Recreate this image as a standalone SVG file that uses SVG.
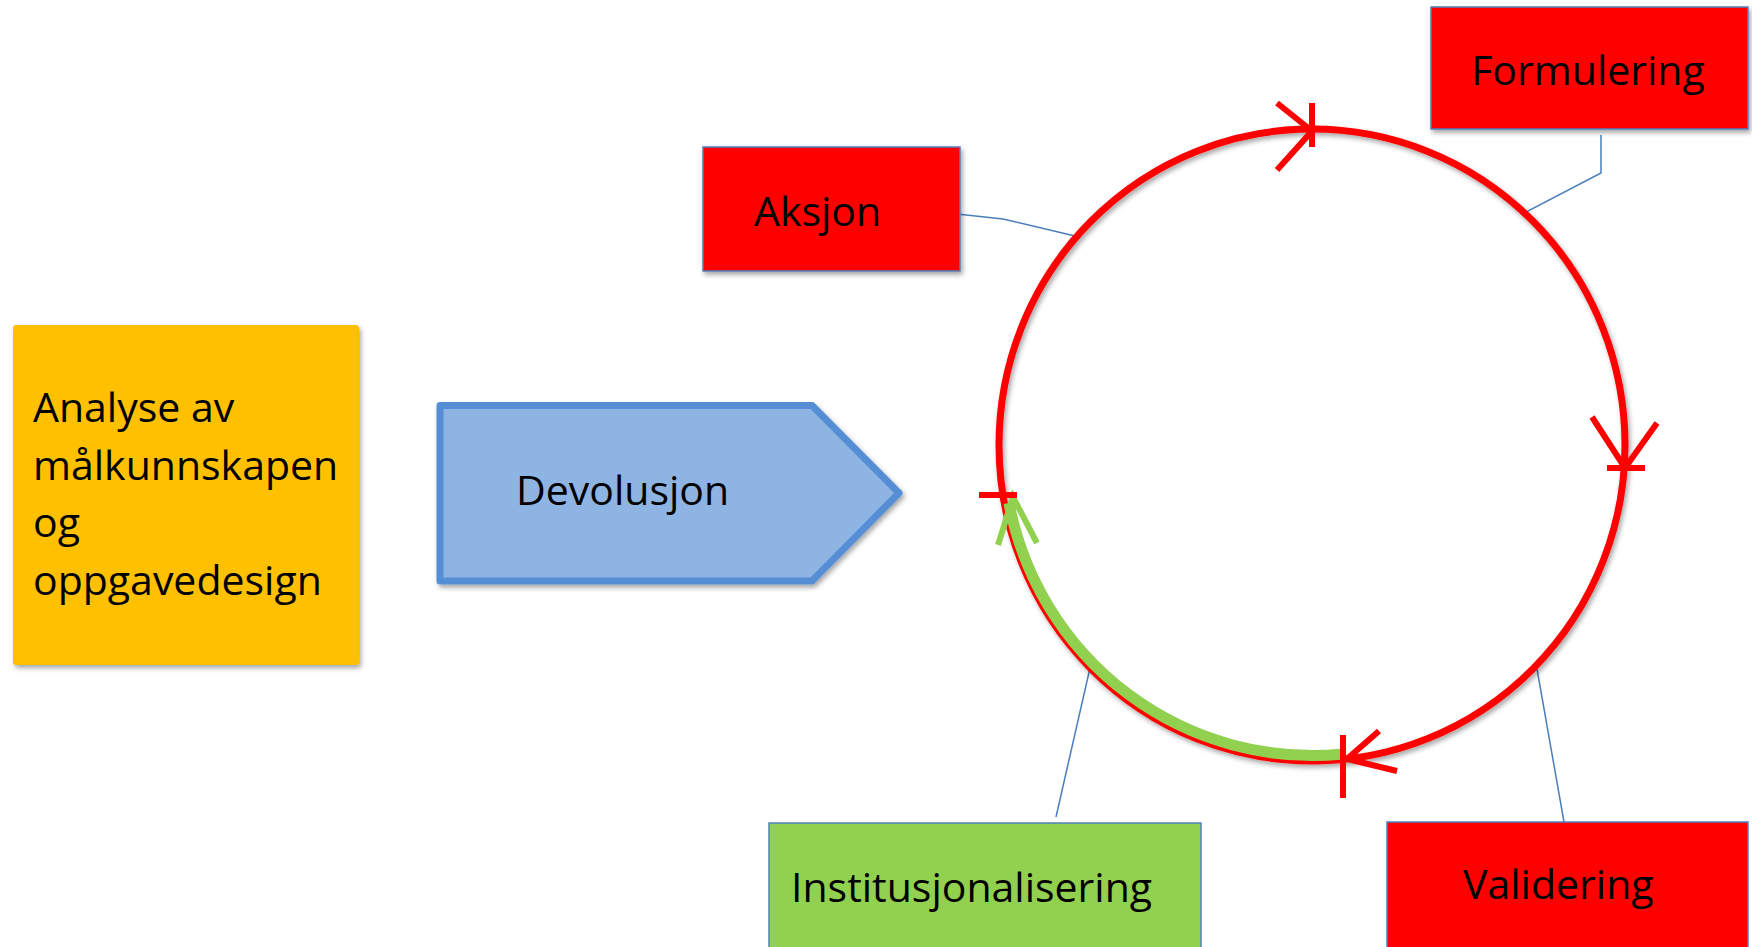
<svg xmlns="http://www.w3.org/2000/svg" width="1752" height="947" viewBox="0 0 1752 947">
<defs>
<filter id="sh" x="-10%" y="-10%" width="120%" height="130%">
<feDropShadow dx="2" dy="3" stdDeviation="2.5" flood-color="#000" flood-opacity="0.35"/>
</filter>
<style>
.lbl{font-family:"Open Sans","Liberation Sans",sans-serif;font-size:41px;fill:#000}
.box{stroke:#4F81BD;stroke-width:1.5}
.red{fill:#FF0000}
.conn{fill:none;stroke:#4A7EBB;stroke-width:1.5}
.ring{fill:none;stroke:#FF0000;stroke-width:7}
.mk{fill:none;stroke:#FF0000;stroke-width:6;stroke-linecap:butt}
.gmk{fill:none;stroke:#92D050;stroke-width:6}
</style>
</defs>
<rect width="1752" height="947" fill="#fff"/>

<g id="connectors">
<polyline class="conn" points="1601,135 1601,173 1524,213"/>
<polyline class="conn" points="957,214 1003,219 1075,236"/>
<polyline class="conn" points="1056,817 1090,668"/>
<polyline class="conn" points="1537,669 1564,822"/>
</g>

<g id="cycle">
<ellipse class="ring" cx="1312" cy="445" rx="313" ry="316" filter="url(#sh)"/>
<path d="M1009,503 A309,311 0 0 0 1343,754" fill="none" stroke="#92D050" stroke-width="11"/>
<polyline class="gmk" points="998,545 1013,497 1037,543"/>
<polyline class="mk" points="1277,103 1312,131 1277,170"/>
<line class="mk" x1="1312" y1="103" x2="1312" y2="147"/>
<polyline class="mk" points="1592,417 1625,468 1657,423"/>
<line class="mk" x1="1607" y1="468" x2="1645" y2="468"/>
<polyline class="mk" points="1379,731 1347,759 1397,771"/>
<line class="mk" x1="1343" y1="735" x2="1343" y2="798"/>
<line class="mk" x1="979" y1="495" x2="1017" y2="495"/>
</g>

<g id="analyse">
<rect x="13" y="325" width="346" height="340" rx="3" fill="#FFC000" filter="url(#sh)"/>
<text class="lbl" x="33" y="422">Analyse av</text>
<text class="lbl" x="33" y="480">målkunnskapen</text>
<text class="lbl" x="33" y="537">og</text>
<text class="lbl" x="33" y="595">oppgavedesign</text>
</g>

<g id="devolusjon">
<path d="M440,405.5 L812,405.5 L899,493 L812,581 L440,581 Z" fill="#8EB4E3" stroke="#558ED5" stroke-width="7" stroke-linejoin="round" filter="url(#sh)"/>
<text class="lbl" x="516" y="505">Devolusjon</text>
</g>

<g id="aksjon">
<rect class="box red" x="703" y="147" width="257" height="124" filter="url(#sh)"/>
<text class="lbl" x="754" y="226">Aksjon</text>
</g>

<g id="formulering">
<rect class="box red" x="1431" y="7" width="317" height="122" filter="url(#sh)"/>
<text class="lbl" x="1588" y="85" text-anchor="middle">Formulering</text>
</g>

<g id="institusjonalisering">
<rect class="box" x="769" y="823" width="432" height="140" fill="#92D050"/>
<text class="lbl" x="791" y="902">Institusjonalisering</text>
</g>

<g id="validering">
<rect class="box red" x="1387" y="822" width="361" height="140"/>
<text class="lbl" x="1463" y="899">Validering</text>
</g>
</svg>
